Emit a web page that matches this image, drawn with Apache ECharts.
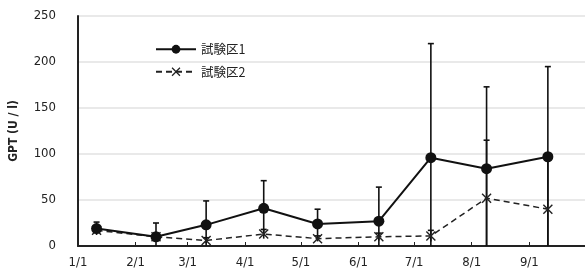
<!DOCTYPE html>
<html lang="ja">
<head>
    <meta charset="UTF-8">
    <title>GPT</title>
    <script src="https://cdn.jsdelivr.net/npm/echarts@6/dist/echarts.min.js"></script>
</head>
<body style="margin:0;background:#fff;">
<div id="chart" style="width:585px;height:275px;"></div>
<script type="text/javascript">
    // 測定日
    const dates = ['2001-01-11', '2001-02-12', '2001-03-11', '2001-04-11', '2001-05-10',
        '2001-06-12', '2001-07-10', '2001-08-09', '2001-09-11'];
    // 試験区1 平均と標準偏差
    const mean1 = [19, 10, 23, 41, 24, 27, 96, 84, 97];
    const sd1 = [7, 15, 26, 30, 16, 37, 124, 89, 98];
    // 試験区2 平均と標準偏差
    const mean2 = [17, 10, 6, 13, 8, 10, 11, 52, 40];
    const sd2 = [4, 4, 3, 5, 3, 4, 6, 63, 55];
    const yTicks = [0, 50, 100, 150, 200, 250];

    const numFont = '"DejaVu Sans Condensed", "Noto Sans CJK JP", sans-serif';
    const jpFont = '"Noto Sans CJK JP", sans-serif';
    const xPath = 'path://M0,1 L1,0 L5,4 L9,0 L10,1 L6,5 L10,9 L9,10 L5,6 L1,10 L0,9 L4,5 Z';

    function pairs(vals) {
        return dates.map(function (d, i) { return [d, vals[i]]; });
    }

    function bars(mean, sd) {
        return dates.map(function (d, i) {
            return [d, Math.max(0, mean[i] - sd[i]), mean[i] + sd[i]];
        });
    }

    // エラーバー（上側だけキャップ）
    function errRender(params, api) {
        const x = api.value(0);
        const top = api.coord([x, api.value(2)]);
        const bot = api.coord([x, api.value(1)]);
        const st = {stroke: '#111', lineWidth: 1.6};
        return {
            type: 'group',
            children: [
                {type: 'line', shape: {x1: top[0], y1: top[1], x2: bot[0], y2: bot[1]}, style: st},
                {type: 'line', shape: {x1: top[0] - 3, y1: top[1], x2: top[0] + 3, y2: top[1]}, style: st}
            ]
        };
    }

    let myChart = echarts.init(document.getElementById('chart'));
    myChart.setOption({
        backgroundColor: '#fff',
        animation: false,
        grid: {left: 77, right: 0, top: 16, bottom: 29},
        legend: {
            data: ['試験区1', '試験区2'],
            orient: 'vertical',
            left: 150,
            top: 38,
            itemWidth: 40,
            itemHeight: 11,
            itemGap: 10,
            textStyle: {fontFamily: jpFont, fontSize: 12.5, color: '#222'}
        },
        xAxis: {
            type: 'time',
            min: '2001-01-01',
            max: '2001-10-01',
            minInterval: 28 * 86400000,
            maxInterval: 31 * 86400000,
            splitNumber: 9,
            axisLine: {lineStyle: {color: '#222', width: 2}},
            axisTick: {show: true, inside: true, length: 4, lineStyle: {color: '#222'}},
            axisLabel: {formatter: '{M}/{d}', margin: 10, color: '#222', fontSize: 13, fontFamily: numFont},
            splitLine: {show: false}
        },
        yAxis: {
            type: 'value',
            min: yTicks[0],
            max: yTicks[yTicks.length - 1],
            interval: yTicks[1] - yTicks[0],
            name: 'GPT (U / l)',
            nameLocation: 'middle',
            nameRotate: 90,
            nameGap: 58,
            nameTextStyle: {fontFamily: numFont, fontSize: 12, fontWeight: 'bold', color: '#222'},
            axisLine: {show: true, lineStyle: {color: '#222', width: 2}},
            axisTick: {show: false},
            axisLabel: {margin: 22, color: '#222', fontSize: 13, fontFamily: numFont},
            splitLine: {lineStyle: {color: '#e2e2e2', width: 1.5}}
        },
        series: [
            {
                type: 'custom',
                name: 'err2',
                renderItem: errRender,
                encode: {x: 0, y: [1, 2]},
                data: bars(mean2, sd2),
                z: 1
            },
            {
                type: 'custom',
                name: 'err1',
                renderItem: errRender,
                encode: {x: 0, y: [1, 2]},
                data: bars(mean1, sd1),
                z: 1
            },
            {
                name: '試験区2',
                type: 'line',
                data: pairs(mean2),
                symbol: xPath,
                symbolSize: 10,
                itemStyle: {color: '#222'},
                lineStyle: {color: '#222', width: 1.5, type: [6, 4]},
                z: 3
            },
            {
                name: '試験区1',
                type: 'line',
                data: pairs(mean1),
                symbol: 'circle',
                symbolSize: 11,
                itemStyle: {color: '#111'},
                lineStyle: {color: '#111', width: 2},
                z: 4
            }
        ]
    });
</script>
</body>
</html>
